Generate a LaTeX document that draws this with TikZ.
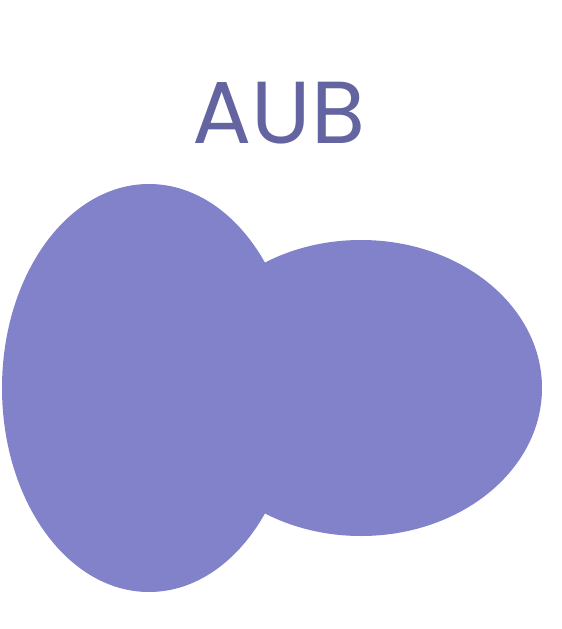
\documentclass[tikz,border=0pt]{standalone}
\usepackage{fontspec}
\setmainfont{Poppins}
\usetikzlibrary{positioning}
\definecolor{setfill}{HTML}{8282CA}
\definecolor{settext}{HTML}{6464A0}

\begin{document}
\begin{tikzpicture}[x=1pt, y=-1pt]
\tikzset{
  setlabel/.style={font=\fontsize{88}{88}\selectfont, text=settext, inner sep=0pt},
  setshape/.style={fill=setfill, draw=none},
}

% ---- canvas ----
\useasboundingbox (0,0) rectangle (562,629);

% ---- union of A and B ----
\fill[setshape] (149,388) ellipse [x radius=147, y radius=204];
\fill[setshape] (361,388) ellipse [x radius=181, y radius=148];

% ---- title ----
\node[setlabel] (title) at (279,113) {AUB};

\end{tikzpicture}
\end{document}
